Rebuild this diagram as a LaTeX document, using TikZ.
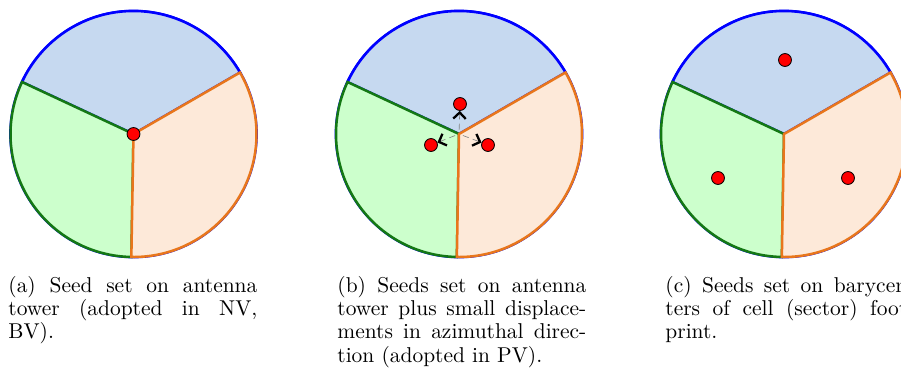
\documentclass[tikz,border=0pt]{standalone}
\usetikzlibrary{arrows.meta,calc}
\hyphenation{bary-cen-ters foot-print dis-place-ments di-rec-tion}
\definecolor{cellblue}{RGB}{198,217,240}
\definecolor{cellgreen}{RGB}{204,255,204}
\definecolor{cellorange}{RGB}{253,233,217}
\definecolor{edgegreen}{RGB}{20,120,20}
\definecolor{edgeorange}{RGB}{232,118,28}
\tikzset{
  seed/.style={circle,draw=black,fill=red,inner sep=0pt,minimum size=6.2pt,line width=.4pt},
  disp/.style={gray,densely dashed,line width=.3pt,shorten <=2pt,
    -{Straight Barb[length=3pt,width=6pt,line width=1.1pt,color=black]}},
  subcap/.style={anchor=base west,inner sep=0pt,text width=119.5pt,align=justify,
    font=\fontsize{10.3}{11.2}\selectfont}
}
\newcommand{\sectorcell}[1]{%
  \draw[blue,line width=1.3pt] (#1) circle (123);
  \filldraw[fill=cellblue,draw=blue,line width=1.2pt] (#1) -- ++(30:123) arc (30:155:123) -- cycle;
  \filldraw[fill=cellgreen,draw=edgegreen,line width=1.2pt] (#1) -- ++(155:123) arc (155:269:123) -- cycle;
  \filldraw[fill=cellorange,draw=edgeorange,line width=1.2pt] (#1) -- ++(269:123) arc (269:390:123) -- cycle;
}
\begin{document}
\begin{tikzpicture}[x=0.48pt,y=0.48pt]
            \useasboundingbox (0,0) rectangle (901,375);
            \clip (0,0) rectangle (901,375);
            \coordinate (ca) at (133.5,241);
            \coordinate (cb) at (459,241);
            \coordinate (cc) at (784,241);
            \sectorcell{ca}
            \sectorcell{cb}
            \sectorcell{cc}
            % (a) tower
            \node[seed] (sa) at (ca) {};
            % (b) tower plus displacements
            \node[seed] (sb1) at ($(cb)+(1,30)$) {};
            \node[seed] (sb2) at ($(cb)+(-28,-11)$) {};
            \node[seed] (sb3) at ($(cb)+(29,-11)$) {};
            \draw[disp] (cb) -- (sb1);
            \draw[disp] (cb) -- (sb2);
            \draw[disp] (cb) -- (sb3);
            % (c) barycenters
            \node[seed] (sc1) at ($(cc)+(1,74)$) {};
            \node[seed] (sc2) at ($(cc)+(-66,-44)$) {};
            \node[seed] (sc3) at ($(cc)+(64,-44)$) {};
            \node[subcap] (capa) at (8,83) {(a) Seed set on antenna tower (adopted in NV, BV).};
            \node[subcap] (capb) at (337,83) {(b) Seeds set on antenna tower plus small displacements in azimuthal direction (adopted in PV).};
            \node[subcap] (capc) at (665,83) {(c) Seeds set on barycenters of cell (sector) footprint.};
        \end{tikzpicture}
\end{document}
